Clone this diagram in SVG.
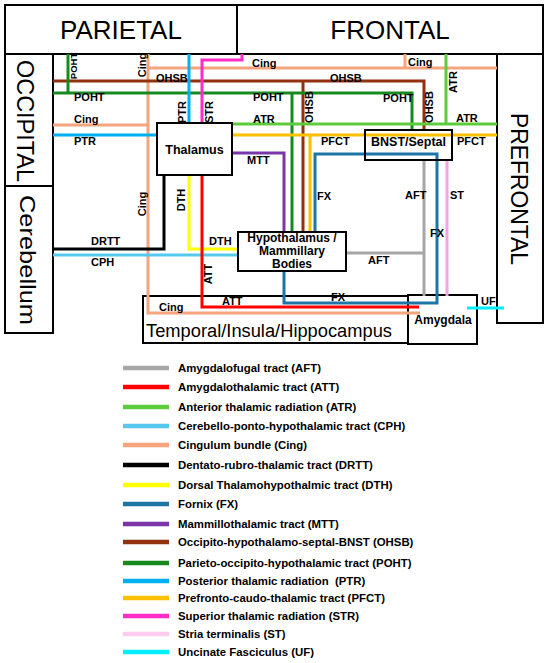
<svg xmlns="http://www.w3.org/2000/svg" width="550" height="663" viewBox="0 0 550 663">
<style>
.bg{fill:#fff}
.box{fill:none;stroke:#000;stroke-width:2}
.big{font-family:"Liberation Sans",Arial,sans-serif;font-size:26px;fill:#000}
.nt{font-family:"Liberation Sans",Arial,sans-serif;font-weight:bold;font-size:12.5px;fill:#000;text-anchor:middle}
.ns{font-size:12px}
.lb{font-family:"Liberation Sans",Arial,sans-serif;font-weight:bold;font-size:11px;fill:#000}
.rl{text-anchor:middle}
.lg{font-family:"Liberation Sans",Arial,sans-serif;font-weight:bold;font-size:11.4px;fill:#000;white-space:pre}
.c{fill:none;stroke-width:3;stroke-linejoin:miter;stroke-linecap:butt}
.ll{stroke-width:4.5}
.aft{stroke:#A6A6A6}.att{stroke:#FF0000}.atr{stroke:#5CCB3C}.cph{stroke:#55C8EE}
.cing{stroke:#F6A47E}.drtt{stroke:#000}.dth{stroke:#FFFF00}.fx{stroke:#1C75A5}
.mtt{stroke:#7A35A8}.ohsb{stroke:#92310F}.poht{stroke:#168A1E}.ptr{stroke:#00B0F0}
.pfct{stroke:#FFC000}.str{stroke:#FF2DC8}.st{stroke:#F4A4E2}.stl{stroke:#FFCCEE}.uf{stroke:#00EEFF}
</style>
<rect class="bg" x="0" y="0" width="550" height="663"/>

<!-- regions -->
<g id="parietal"><rect class="box" x="5" y="5" width="232" height="49"/><text class="big" x="121" y="39" text-anchor="middle">PARIETAL</text></g>
<g id="frontal"><rect class="box" x="237" y="5" width="306" height="49"/><text class="big" x="390" y="39" text-anchor="middle">FRONTAL</text></g>
<g id="occipital"><rect class="box" x="5" y="54" width="48" height="132"/><text class="big" transform="translate(17,121) rotate(90)" text-anchor="middle" style="font-size:24px" textLength="122" lengthAdjust="spacingAndGlyphs">OCCIPITAL</text></g>
<g id="cerebellum"><rect class="box" x="5" y="186" width="48" height="147"/><text class="big" transform="translate(20,260) rotate(90)" text-anchor="middle" style="font-size:22px" textLength="130" lengthAdjust="spacingAndGlyphs">Cerebellum</text></g>
<g id="prefrontal"><rect class="box" x="497" y="54" width="46" height="269"/><text class="big" transform="translate(511,189) rotate(90)" text-anchor="middle" style="font-size:24px" textLength="152" lengthAdjust="spacingAndGlyphs">PREFRONTAL</text></g>
<g id="temporal"><rect class="box" x="143" y="296" width="265" height="47"/><text class="big" x="146" y="337" style="font-size:18px" textLength="246" lengthAdjust="spacingAndGlyphs">Temporal/Insula/Hippocampus</text></g>
<g id="amygdala"><rect class="box" x="408" y="295" width="69" height="49"/><text class="nt ns" x="443" y="324">Amygdala</text></g>

<!-- connectors -->
<g id="connectors">
<path class="c cing" d="M148,54 V313 H420 M148,68 H497 M53,125 H148 M405,54 V68"/>
<path class="c ohsb" d="M53,81 H424 V130 M303,81 V232"/>
<path class="c poht" d="M53,93 H412 V130 M68,54 V93 M292,93 V232"/>
<path class="c atr" d="M232,124 H497 M446,54 V124"/>
<path class="c pfct" d="M232,135 H497 M310,135 V232"/>
<path class="c ptr" d="M189,54 V123 M53,135 H157"/>
<path class="c str" d="M202,123 V60 H242 V54"/>
<path class="c mtt" d="M232,153 H284 V232"/>
<path class="c fx" d="M315,232 V154 H437 V303 H284 V271"/>
<path class="c aft" d="M424,160 V296 M346,253 H424"/>
<path class="c st" d="M447,160 V296"/>
<path class="c drtt" d="M164,175 V249 H53"/>
<path class="c cph" d="M53,255 H238"/>
<path class="c dth" d="M189,175 V249 H238"/>
<path class="c att" d="M202,175 V307 H419"/>
<path class="c uf" d="M467,308 H504"/>

<text class="lb rl" transform="translate(77,66) rotate(-90)" style="font-size:9.5px">POHT</text>
<text class="lb rl" transform="translate(146,65) rotate(-90)">Cing</text>
<text class="lb rl" transform="translate(146,204) rotate(-90)">Cing</text>
<text class="lb rl" transform="translate(186,112) rotate(-90)">PTR</text>
<text class="lb rl" transform="translate(213,112) rotate(-90)">STR</text>
<text class="lb rl" transform="translate(313,107) rotate(-90)">OHSB</text>
<text class="lb rl" transform="translate(433,107) rotate(-90)">OHSB</text>
<text class="lb rl" transform="translate(457,82) rotate(-90)">ATR</text>
<text class="lb rl" transform="translate(185,200) rotate(-90)">DTH</text>
<text class="lb rl" transform="translate(212,274) rotate(-90)">ATT</text>

<text class="lb" x="252" y="67">Cing</text>
<text class="lb" x="408" y="66">Cing</text>
<text class="lb" x="156" y="82">OHSB</text>
<text class="lb" x="330" y="82">OHSB</text>
<text class="lb" x="74" y="101">POHT</text>
<text class="lb" x="253" y="101">POHT</text>
<text class="lb" x="383" y="102">POHT</text>
<text class="lb" x="74" y="123">Cing</text>
<text class="lb" x="253" y="123">ATR</text>
<text class="lb" x="456" y="122">ATR</text>
<text class="lb" x="74" y="145">PTR</text>
<text class="lb" x="321" y="145">PFCT</text>
<text class="lb" x="457" y="145">PFCT</text>
<text class="lb" x="247" y="164">MTT</text>
<text class="lb" x="317" y="200">FX</text>
<text class="lb" x="405" y="199">AFT</text>
<text class="lb" x="450" y="199">ST</text>
<text class="lb" x="430" y="237">FX</text>
<text class="lb" x="209" y="245">DTH</text>
<text class="lb" x="91" y="245">DRTT</text>
<text class="lb" x="91" y="266">CPH</text>
<text class="lb" x="368" y="264">AFT</text>
<text class="lb" x="331" y="301">FX</text>
<text class="lb" x="222" y="305">ATT</text>
<text class="lb" x="159" y="311">Cing</text>
<text class="lb" x="481" y="305">UF</text>
</g>

<!-- nodes -->
<g id="thalamus"><rect class="box" x="157" y="123" width="75" height="52"/><text class="nt" x="194.5" y="154">Thalamus</text></g>
<g id="bnst"><rect class="box" x="365" y="130" width="87" height="30"/><text class="nt" x="408.5" y="146">BNST/Septal</text></g>
<g id="hypothalamus"><rect class="box" x="238" y="232" width="108" height="39"/>
<text class="nt ns" x="292" y="242">Hypothalamus /</text>
<text class="nt ns" x="292" y="255">Mammillary</text>
<text class="nt ns" x="292" y="268">Bodies</text></g>

<!-- legend -->
<g id="legend">
<path class="c ll aft" d="M123,368 H169"/><text class="lg" x="178" y="372">Amygdalofugal tract (AFT)</text>
<path class="c ll att" d="M123,387 H169"/><text class="lg" x="178" y="391">Amygdalothalamic tract (ATT)</text>
<path class="c ll atr" d="M123,407 H169"/><text class="lg" x="178" y="411">Anterior thalamic radiation (ATR)</text>
<path class="c ll cph" d="M123,426 H169"/><text class="lg" x="178" y="430">Cerebello-ponto-hypothalamic tract (CPH)</text>
<path class="c ll cing" d="M123,445 H169"/><text class="lg" x="178" y="449">Cingulum bundle (Cing)</text>
<path class="c ll drtt" d="M123,465 H169"/><text class="lg" x="178" y="469">Dentato-rubro-thalamic tract (DRTT)</text>
<path class="c ll dth" d="M123,485 H169"/><text class="lg" x="178" y="489">Dorsal Thalamohypothalmic tract (DTH)</text>
<path class="c ll fx" d="M123,504 H169"/><text class="lg" x="178" y="508">Fornix (FX)</text>
<path class="c ll mtt" d="M123,524 H169"/><text class="lg" x="178" y="528">Mammillothalamic tract (MTT)</text>
<path class="c ll ohsb" d="M123,542 H169"/><text class="lg" x="178" y="546">Occipito-hypothalamo-septal-BNST (OHSB)</text>
<path class="c ll poht" d="M123,563 H169"/><text class="lg" x="178" y="567">Parieto-occipito-hypothalamic tract (POHT)</text>
<path class="c ll ptr" d="M123,581 H169"/><text class="lg" x="178" y="585">Posterior thalamic radiation  (PTR)</text>
<path class="c ll pfct" d="M123,598 H169"/><text class="lg" x="178" y="602">Prefronto-caudo-thalamic tract (PFCT)</text>
<path class="c ll str" d="M123,616 H169"/><text class="lg" x="178" y="620">Superior thalamic radiation (STR)</text>
<path class="c ll stl" d="M123,634 H169"/><text class="lg" x="178" y="638">Stria terminalis (ST)</text>
<path class="c ll uf" d="M123,652 H169"/><text class="lg" x="178" y="656">Uncinate Fasciculus (UF)</text>
</g>
</svg>
